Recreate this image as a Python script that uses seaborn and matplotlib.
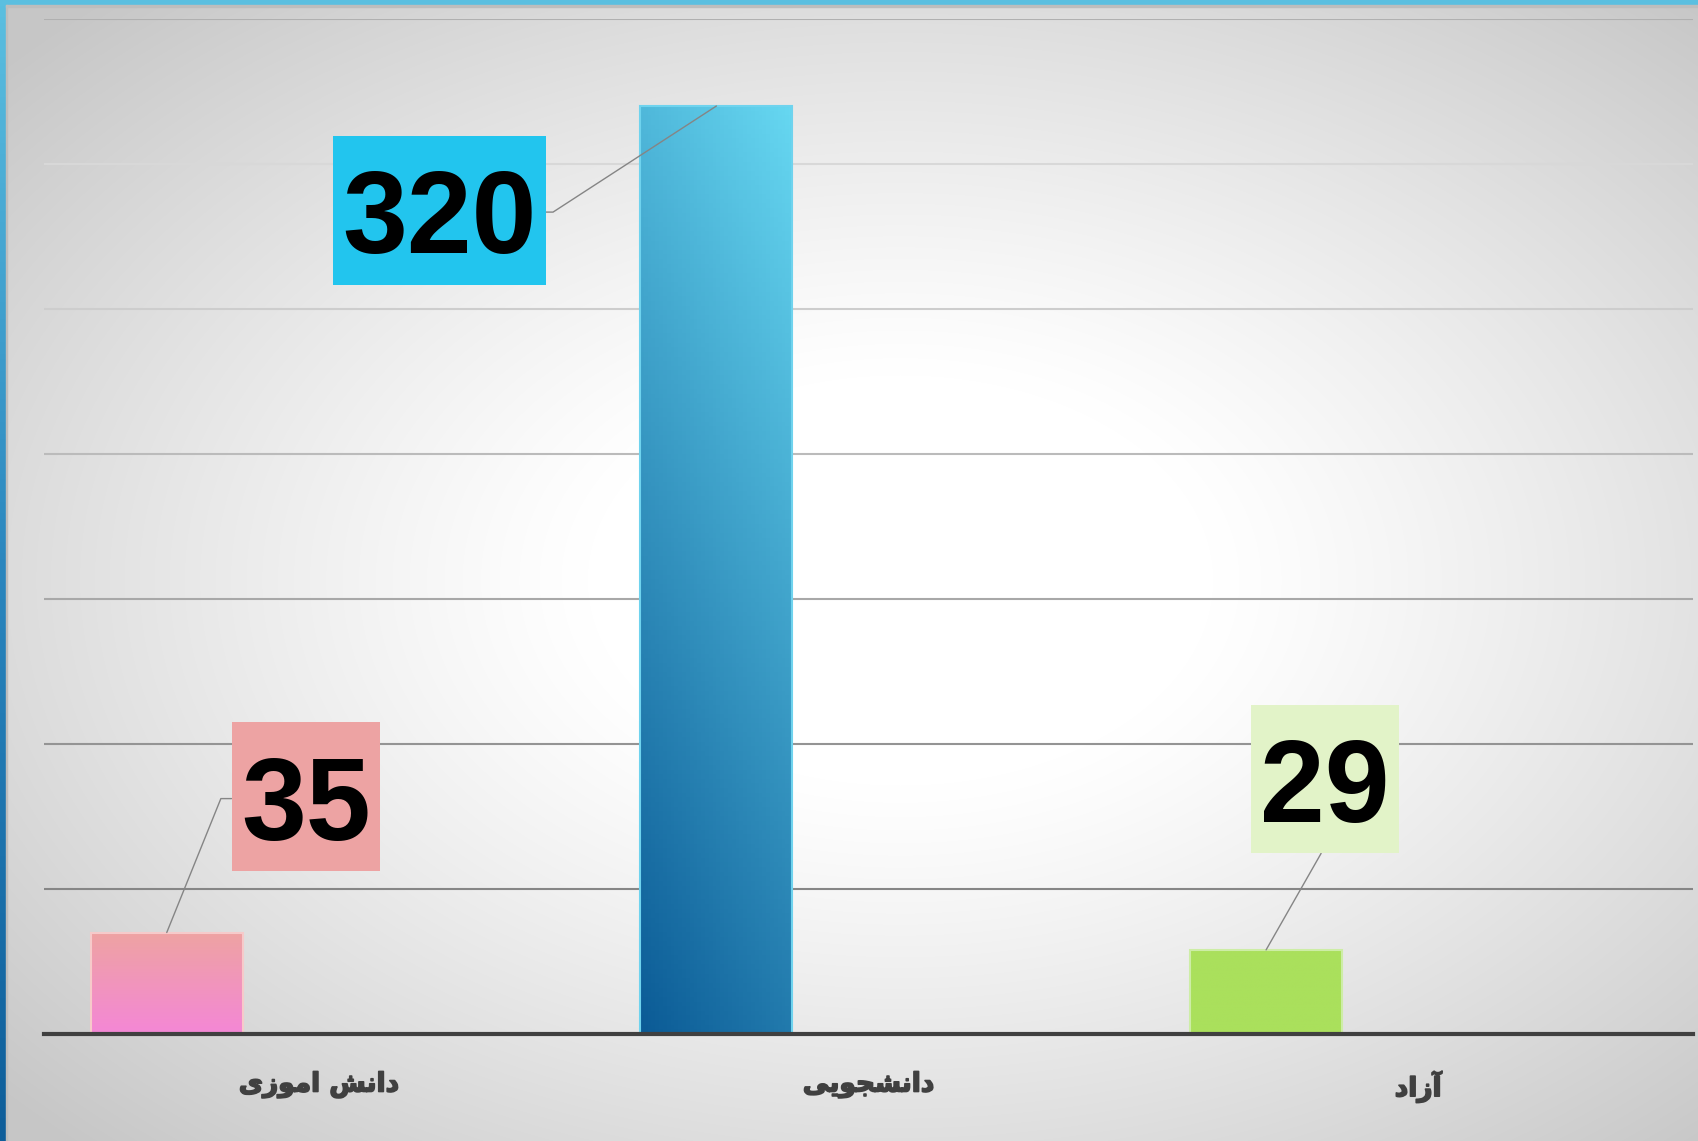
import numpy as np
import pandas as pd
import matplotlib
matplotlib.use('Agg')
import matplotlib.pyplot as plt
import seaborn as sns
from matplotlib.colors import LinearSegmentedColormap
from matplotlib.patches import Rectangle
from matplotlib.path import Path
import matplotlib.patheffects as pe

# ---------------- data ----------------
categories = ['دانش اموزی', 'دانشجویی', 'آزاد']
values = [35, 320, 29]
# matplotlib does no Arabic shaping / bidi, so the labels are given
# in presentation forms and in visual (left-to-right) order
category_labels = [
    '\uFBFC\uFEAF\uFEEE\uFEE3\uFE8D \uFEB6\uFEE7\uFE8D\uFEA9',
    '\uFBFD\uFBFE\uFEEE\uFEA0\uFEB8\uFEE7\uFE8D\uFEA9',
    '\uFEA9\uFE8D\uFEAF\uFE81',
]
yticks = np.arange(0, 351, 50)

# ---------------- styles ----------------
bar_top = ['#EEA3A2', '#66D7F1', '#AAE05C']
bar_bottom = ['#F487D6', '#0B5B96', '#AAE05C']
bar_edge = ['#F6CACA', '#6FD3EE', '#CDEDA6']
box_colors = ['#EDA3A3', '#22C5EE', '#E2F3C8']
# label offsets (pixels) from the bar top, connector style
label_offsets = [(139, 123), (-277, -117), (59, 158)]
label_conn = [('angle,angleA=0,angleB=68,rad=0', (0, 0.6)),
              ('angle,angleA=0,angleB=33,rad=0', (1, 0.6)),
              ('arc3,rad=0', (0.5, 0))]
grid_colors = ['#808080', '#868686', '#949494', '#A8A8A8', '#BBBBBB', '#CDCDCD', '#D8D8D8']


def label_box(x0, y0, width, height, mutation_size):
    # square box, digits sit a bit low in the text bbox so pad more on top
    px = 0.08 * mutation_size
    x0, y0 = x0 - px, y0 - 0.06 * mutation_size
    x1, y1 = x0 + width + 2 * px, y0 + height + 0.34 * mutation_size
    return Path([(x0, y0), (x1, y0), (x1, y1), (x0, y1), (x0, y0)], closed=True)


W, H = 1698, 1141
fig = plt.figure(figsize=(W / 100, H / 100), dpi=100)

# background: radial gradient + blue frame
bg = fig.add_axes([0, 0, 1, 1], zorder=-10)
yy, xx = np.mgrid[0:H, 0:W]
d = np.sqrt(((xx - 900) / 1250) ** 2 + ((yy - 580) / 820) ** 2)
s = np.clip((d - 0.25) / 0.7, 0, 1) ** 1.15
g = 1 - 0.22 * s
bg.imshow(np.dstack([g, g, g]), extent=[0, W, H, 0], aspect='auto')
bg.add_patch(Rectangle((0, 0), W, 5, color='#5BBFE0'))
bg.add_patch(Rectangle((6, 5), W, 1.5, color='#BDBDBD'))
left = np.linspace(0, 1, 200).reshape(-1, 1)
edge_cmap = LinearSegmentedColormap.from_list('edge', ['#5BBFE0', '#2A86BE', '#0E5E9A'])
bg.imshow(left, cmap=edge_cmap, extent=[0, 6, H, 0], aspect='auto')
bg.add_patch(Rectangle((6, 5), 1.5, H, color='#BDBDBD'))
bg.set_xlim(0, W)
bg.set_ylim(H, 0)
bg.axis('off')

ax = fig.add_axes([44 / W, 1 - 1034 / H, (1693 - 44) / W, (1034 - 19) / H])
ax.patch.set_alpha(0)

df = pd.DataFrame({'category': categories, 'value': values, 'series': 's1'})
sns.barplot(data=df, x='category', y='value', hue='series', order=categories,
            hue_order=['s1', 's2', 's3'], width=0.83, dodge=True, legend=False,
            errorbar=None, ax=ax)

bars = sorted(ax.patches, key=lambda p: p.get_x())
for i, p in enumerate(bars):
    x0, w, h = p.get_x(), p.get_width(), p.get_height()
    v, u = np.mgrid[0:1:200j, 0:1:40j]
    if i == 1:
        t = 0.75 * (1 - v) + 0.25 * (1 - u)
    else:
        t = 1 - v
    cm = LinearSegmentedColormap.from_list('b%d' % i, [bar_bottom[i], bar_top[i]])
    im = ax.imshow(1 - t, cmap=cm, vmin=0, vmax=1, origin='lower', aspect='auto',
                   extent=[x0, x0 + w, 0, h], zorder=2)
    im.set_clip_path(p)
    p.set_facecolor('none')
    p.set_edgecolor(bar_edge[i])
    p.set_linewidth(1.5)
    p.set_zorder(3)

    dx, dy = label_offsets[i]
    conn, rel = label_conn[i]
    ax.annotate(str(values[i]), xy=(x0 + w / 2, h), xytext=(dx, dy),
                textcoords='offset pixels', ha='center', va='center',
                fontsize=84, fontweight='bold', family='Liberation Sans', color='black',
                bbox=dict(boxstyle=label_box, fc=box_colors[i], ec='none'),
                arrowprops=dict(arrowstyle='-', color='#858585', lw=1.0,
                                connectionstyle=conn, relpos=rel,
                                shrinkA=0, shrinkB=0),
                zorder=5)

ax.set_xlim(-0.5, 2.5)
ax.set_ylim(0, 350)
ax.set_yticks(yticks)
ax.set_yticklabels([])
ax.set_ylabel('')
ax.set_xlabel('')
ax.set_xticks(range(3), category_labels)
ax.tick_params(axis='both', length=0)
ax.tick_params(axis='x', pad=27)
for lab in ax.get_xticklabels():
    lab.set_fontsize(19)
    lab.set_fontweight('bold')
    lab.set_family('DejaVu Sans')
    lab.set_color('#404040')
    lab.set_path_effects([pe.withStroke(linewidth=1.2, foreground='#404040')])

ax.set_axisbelow(True)
ax.yaxis.grid(True, linewidth=1.5)
ax.xaxis.grid(False)
for gl, c in zip(ax.get_ygridlines(), grid_colors):
    gl.set_color(c)
for side in ['top', 'right', 'left']:
    ax.spines[side].set_visible(False)
ax.spines['bottom'].set_color('#404040')
ax.spines['bottom'].set_linewidth(3)
ax.spines['bottom'].set_zorder(4)

fig.savefig('out.png', dpi=100)
